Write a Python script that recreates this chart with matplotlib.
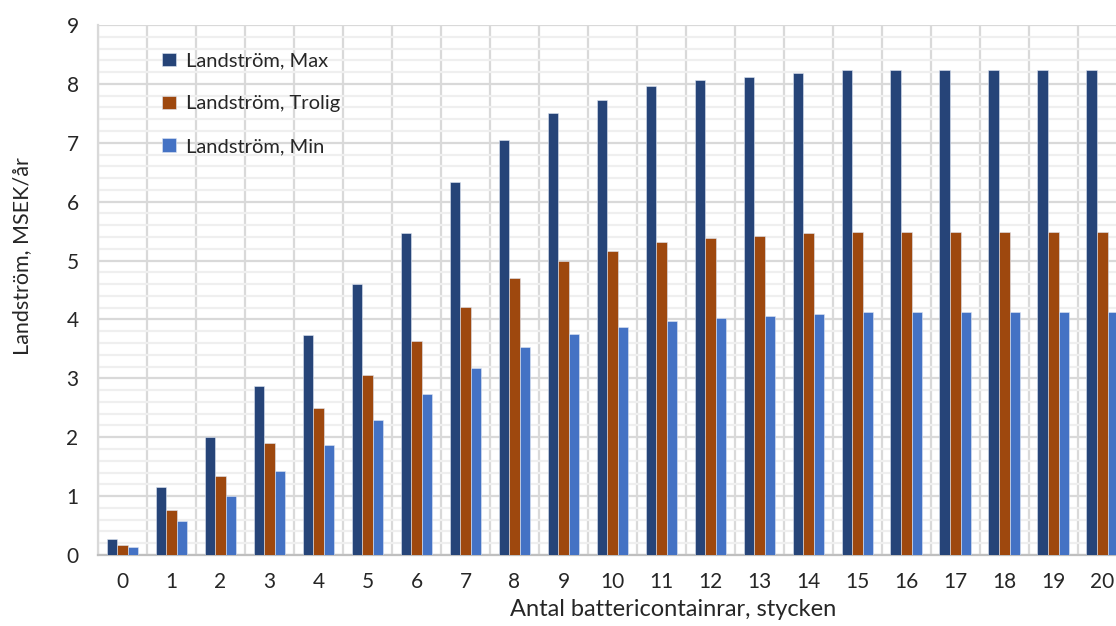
import numpy as np
import matplotlib.pyplot as plt

plt.rcParams['font.family'] = ['Lato', 'DejaVu Sans']

# Antal battericontainrar 0..20
antal = list(range(21))
land_max = [0.28, 1.15, 2.00, 2.87, 3.73, 4.60, 5.46, 6.33, 7.05, 7.50, 7.72,
            7.96, 8.06, 8.12, 8.19, 8.24, 8.24, 8.24, 8.24, 8.24, 8.24]
land_trolig = [0.17, 0.76, 1.35, 1.91, 2.49, 3.06, 3.64, 4.21, 4.71, 4.99, 5.16,
               5.31, 5.38, 5.42, 5.46, 5.48, 5.48, 5.48, 5.48, 5.48, 5.48]
land_min = [0.13, 0.57, 1.00, 1.43, 1.87, 2.30, 2.74, 3.17, 3.54, 3.76, 3.87,
            3.97, 4.03, 4.06, 4.10, 4.12, 4.12, 4.12, 4.12, 4.12, 4.12]
serier = ['Landström, Max', 'Landström, Trolig', 'Landström, Min']
farger = ['#264478', '#9E480E', '#4472C4']

fig = plt.figure(figsize=(11.16, 6.26), dpi=100)
ax = fig.add_axes([0.0878, 0.1134, 0.922, 0.8466])

x = np.arange(len(antal))
w = 0.217
for i, (vals, namn, f) in enumerate(zip([land_max, land_trolig, land_min], serier, farger)):
    ax.bar(x + (i - 1) * w, vals, width=w, color=f, label=namn,
           edgecolor='#dfe6f2', linewidth=0.4, zorder=3)

ax.set_xlim(-0.5, 20.5)
ax.set_ylim(0, 9)
ax.set_xticks(x)
ax.set_xticklabels([str(a) for a in antal])
ax.set_yticks(range(10))
ax.set_xticks(np.arange(-0.5, 21, 1), minor=True)
ax.set_yticks([k * 0.2 for k in range(46) if k % 5 != 0], minor=True)

ax.grid(which='major', axis='y', color='#D9D9D9', linewidth=1.6, zorder=1)
ax.grid(which='minor', axis='x', color='#D9D9D9', linewidth=1.6, zorder=1)
ax.grid(which='minor', axis='y', color='#EFEFEF', linewidth=1.6, zorder=0)
ax.set_axisbelow(True)

ax.tick_params(which='both', length=0)
ax.tick_params(axis='x', labelsize=15, pad=12, colors='#262626')
ax.tick_params(axis='y', labelsize=15, pad=14, colors='#262626')

for s in ['top', 'right']:
    ax.spines[s].set_visible(False)
ax.spines['left'].set_color('#D9D9D9')
ax.spines['left'].set_linewidth(1.6)
ax.spines['bottom'].set_color('#BFBFBF')
ax.spines['bottom'].set_linewidth(1.6)

ax.set_xlabel('Antal battericontainrar, stycken', fontsize=17, color='#262626')
ax.xaxis.set_label_coords(0.559, -0.083)
ax.set_ylabel('Landström, MSEK/år', fontsize=15.5, color='#262626')
ax.yaxis.set_label_coords(-0.064, 0.564)

ax.legend(loc='upper left', bbox_to_anchor=(0.045, 0.982), frameon=False,
          fontsize=14.5, handlelength=0.65, handleheight=0.65, handletextpad=0.5,
          labelspacing=1.28, labelcolor='#262626')

fig.savefig('out.png', dpi=100)
